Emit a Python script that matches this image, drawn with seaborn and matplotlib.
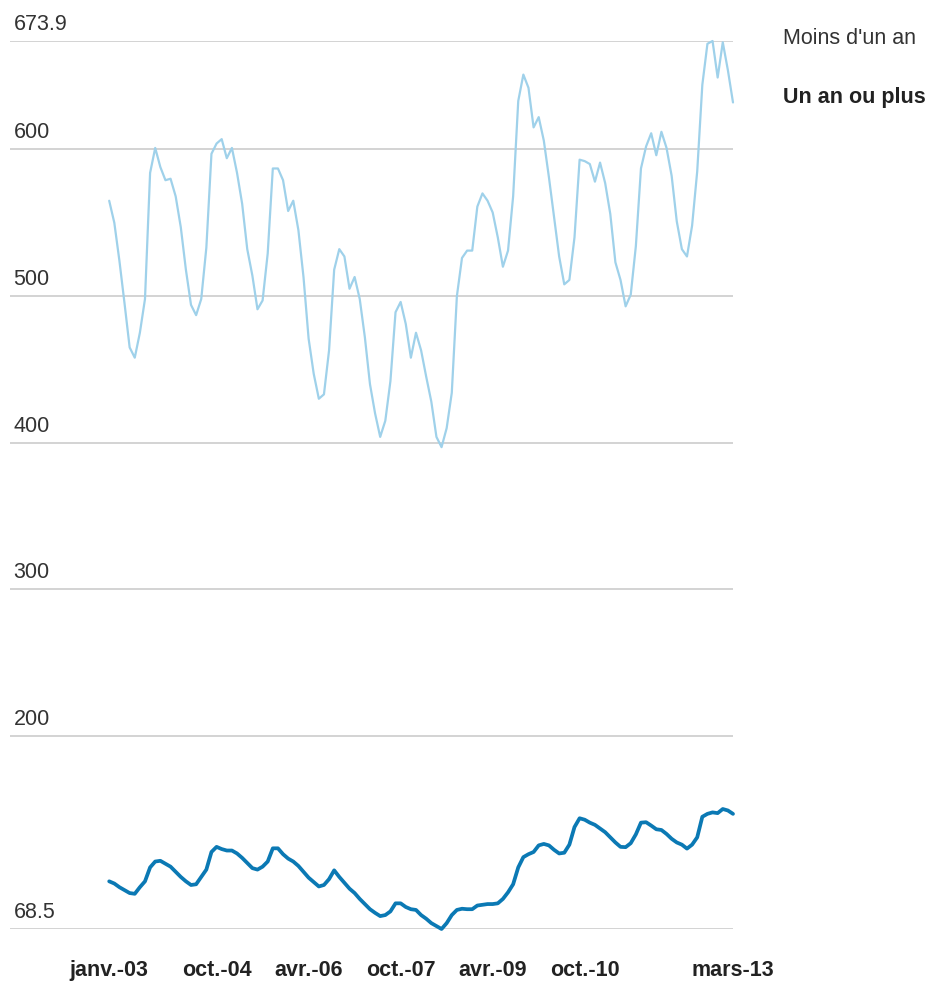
import pandas as pd
import numpy as np
import matplotlib
matplotlib.use("Agg")
import matplotlib.pyplot as plt
import seaborn as sns

# ---------------------------------------------------------
# Data (monthly, janv.-03 .. mars-13)
# ---------------------------------------------------------
moins_un_an = [
    565, 550, 524, 495, 465, 458, 475, 498, 584, 601, 588, 579, 580, 568, 547, 518,
    494, 487, 498, 533, 597, 604, 607, 594, 601, 584, 563, 532, 514, 491, 497, 529,
    587, 587, 579, 558, 565, 545, 513, 471, 447, 430, 433, 463, 518, 532, 527, 505,
    513, 498, 472, 440, 420, 404, 415, 442, 489, 496, 481, 458, 475, 463, 445, 428,
    404, 397, 410, 434, 500, 526, 531, 531, 561, 570, 565, 557, 540, 520, 531, 568,
    633, 651, 642, 615, 622, 606, 581, 554, 527, 508, 511, 540, 593, 592, 590, 578,
    591, 577, 556, 523, 511, 493, 501, 534, 587, 602, 611, 596, 612, 601, 582, 551,
    532, 527, 548, 585, 644, 672, 673.9, 649, 673, 654, 632,
]
un_an_ou_plus = [
    101, 99.5, 97, 95, 93, 92.5, 97, 101, 110.5, 114.5, 115, 113, 111, 107.5, 104, 101,
    98.5, 99, 104, 109, 121, 124.5, 123, 122, 122, 120, 117, 113.5, 110, 109, 111, 114.5,
    123.5, 123.5, 119.5, 116.5, 114.5, 111.5, 107.5, 103.5, 100.5, 97.5, 98.5, 102.5, 108.5, 104,
    100, 96, 93, 89, 85.5, 82, 79.5, 77.3, 78, 80.5, 86, 86, 83.5, 82, 81.5, 78,
    75.5, 72.5, 70.5, 68.5, 72.5, 78, 81.5, 82.3, 82, 82, 84.5, 85, 85.5, 85.5, 86, 89,
    93.5, 99, 110.5, 117.5, 119.5, 121, 125.5, 126.5, 125.5, 122.5, 120, 120.5, 126, 138,
    144, 143, 141, 139.5, 137, 134.5, 131, 127.5, 124.5, 124.3, 127, 133, 141, 141.3,
    139, 136.5, 136, 133.3, 130, 127.5, 126, 123.3, 126, 131, 145, 147, 148, 147.5,
    150.3, 149.3, 147,
]
tick_pos = [0, 21, 39, 57, 75, 93, 122]
tick_labels = ["janv.-03", "oct.-04", "avr.-06", "oct.-07", "avr.-09", "oct.-10", "mars-13"]
y_ticks = [68.5, 200, 300, 400, 500, 600, 673.9]
y_labels = ["68.5", "200", "300", "400", "500", "600", "673.9"]

df = pd.DataFrame({
    "mois": np.arange(len(moins_un_an)),
    "Moins d'un an": moins_un_an,
    "Un an ou plus": un_an_ou_plus,
})

# ---------------------------------------------------------
# Plot
# ---------------------------------------------------------
sns.set_style("white")
plt.rcParams["font.family"] = ["Liberation Sans", "DejaVu Sans"]

fig = plt.figure(figsize=(9.31, 9.83), dpi=100)
ax = fig.add_axes([10 / 931, 1 - 929 / 983, (733 - 10) / 931, (929 - 41) / 983])

sns.lineplot(data=df, x="mois", y="Moins d'un an", color="#9fd1ea", linewidth=1.6, ax=ax)
sns.lineplot(data=df, x="mois", y="Un an ou plus", color="#0b79b4", linewidth=2.7, ax=ax)
for ln in ax.lines:
    ln.set_clip_on(False)

ax.set_xlim(-19.4, 122)
ax.set_ylim(68.5, 673.9)
ax.set_xlabel("")
ax.set_ylabel("")
for s in ax.spines.values():
    s.set_visible(False)

# gridlines with the labels sitting above them, inside the plot
ax.set_yticks(y_ticks)
ax.set_yticklabels([])
ax.yaxis.grid(True, color="#d3d3d3", linewidth=1.4)
ax.set_axisbelow(True)
ax.tick_params(axis="y", length=0)
for v, lab in zip(y_ticks, y_labels):
    ax.annotate(lab, xy=(0, v), xycoords=("axes fraction", "data"),
                xytext=(2.5, 8), textcoords="offset points",
                va="baseline", ha="left", fontsize=15.5, color="#333333")

ax.set_xticks(tick_pos)
ax.set_xticklabels(tick_labels, fontsize=15.5, fontweight="bold", color="#222222")
ax.tick_params(axis="x", length=0, pad=22)

fig.text(783 / 931, 1 - 38 / 983, "Moins d'un an", fontsize=15.5, color="#333333", va="center")
fig.text(783 / 931, 1 - 98 / 983, "Un an ou plus", fontsize=15.5, fontweight="bold",
         color="#222222", va="center")

fig.savefig("out.png", dpi=100)
